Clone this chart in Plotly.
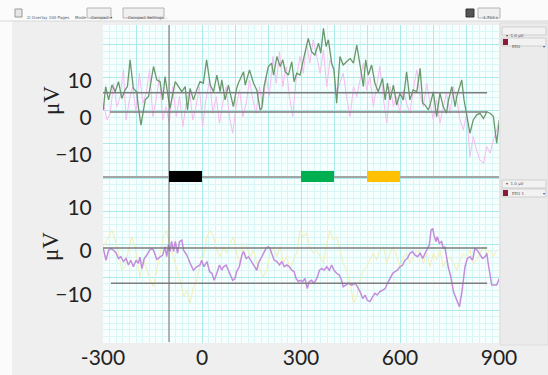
import plotly.graph_objects as go

# ---------------- data (ms, μV) ----------------
green_t = [-299,-292,-283,-273,-263,-253,-243,-233,-226,-218,-208,-198,-193,-185,-172,-162,-147,-137,-127,-119,-112,-102,-97,-81,-71,-61,-51,-44,-36,-26,-16,-6,4,14,25,35,45,55,60,70,80,95,105,110,126,131,144,156,166,176,181,188,201,211,217,227,237,245,252,262,272,279,287,297,307,322,332,342,353,360,368,376,383,393,400,408,418,428,438,449,459,469,479,489,496,504,514,524,534,539,547,555,562,570,580,590,600,610,620,630,640,651,661,669,676,686,691,701,711,721,731,741,746,757,767,772,787,794,802,812,822,832,842,853,863,873,883,893,901]
green_v = [2.2,8.5,4.9,8.9,7.1,9.8,5.3,7.6,8.5,15.7,8.0,7.1,3.1,-1.9,4.9,5.8,13.9,10.3,9.8,4.9,11.2,6.2,2.6,9.8,8.5,7.1,8.5,2.2,8.0,4.9,7.6,9.8,9.4,15.7,8.9,7.1,11.6,7.1,10.3,4.9,8.9,3.1,8.0,9.4,12.5,8.9,13.0,9.4,7.6,2.2,2.6,8.5,13.9,14.8,11.6,16.6,13.9,15.7,12.5,11.6,15.2,9.8,12.1,11.6,15.7,21.5,17.9,17.0,20.2,17.5,24.2,19.3,21.1,14.8,13.0,4.0,16.6,14.3,15.2,16.1,14.8,19.7,14.3,8.5,15.7,11.6,14.3,9.4,7.1,8.5,10.7,4.9,9.4,4.9,8.9,3.5,6.7,4.9,12.5,4.9,7.6,7.1,13.4,4.0,3.5,2.2,3.5,7.1,0.4,6.7,3.1,1.3,4.4,8.5,3.1,5.8,10.3,4.9,1.3,-4.1,-0.5,0.8,1.3,-0.1,1.7,1.3,0.4,-6.8,-0.5]

pink_t = [-299,-288,-278,-268,-258,-248,-238,-230,-220,-210,-200,-190,-179,-169,-159,-149,-139,-129,-119,-109,-99,-89,-78,-68,-58,-48,-38,-28,-18,-8,2,12,23,33,43,53,63,73,83,93,103,114,124,134,144,154,164,174,184,194,204,215,225,235,245,255,265,275,285,297,307,317,327,337,348,358,368,378,388,398,408,418,428,438,449,459,469,479,489,499,509,519,529,539,550,560,570,580,590,600,610,620,630,640,651,661,671,681,691,701,711,721,731,741,752,762,772,782,792,802,812,822,832,842,853,863,873,883,893,901]
pink_v = [4.0,-0.5,1.3,9.4,3.1,5.8,13.0,-0.5,4.9,8.5,1.3,12.1,4.0,6.7,13.0,0.4,4.9,11.2,-0.5,3.1,-1.4,8.5,0.4,5.8,-2.3,4.0,7.6,-0.5,3.1,8.5,-2.3,4.9,10.3,1.3,5.8,-1.4,4.0,8.5,0.4,-4.1,3.1,7.6,0.4,4.0,10.3,4.9,1.3,8.5,3.1,11.2,5.8,16.6,9.4,17.9,8.5,13.9,5.8,0.4,10.3,16.6,12.1,20.2,14.8,21.1,16.6,12.1,18.4,8.5,15.7,13.0,6.7,9.4,12.1,5.8,0.4,8.5,5.8,10.3,14.8,7.6,11.2,3.1,8.5,13.9,4.9,-1.4,8.5,3.1,5.8,1.3,7.6,4.0,1.3,7.6,13.0,5.8,3.1,9.4,4.0,-0.5,4.9,-1.4,3.1,6.7,1.3,8.5,4.9,-0.5,-3.2,1.3,-10.4,-5.0,-8.6,-11.3,-12.2,-7.7,-9.5,-5.9,-3.2,-0.5]

purple_t = [-299,-291,-283,-276,-268,-260,-253,-246,-238,-230,-223,-216,-208,-200,-193,-188,-182,-175,-167,-159,-152,-147,-137,-127,-119,-112,-107,-102,-97,-92,-86,-81,-74,-68,-61,-56,-46,-36,-26,-16,-6,-1,6,15,23,30,37,45,53,60,65,73,80,87,93,100,105,113,121,126,134,141,148,156,166,171,178,186,194,201,206,211,219,227,235,242,249,257,265,272,279,285,292,297,305,312,319,325,332,339,348,356,363,370,378,386,393,400,408,416,423,428,436,443,454,464,471,479,487,494,501,509,517,524,531,539,547,555,562,570,578,585,592,600,608,615,622,630,638,645,653,661,669,676,683,689,694,699,703,709,713,719,726,731,736,741,746,754,762,770,777,780,787,792,797,804,812,820,827,834,842,850,858,863,868,873,878,885,893,901]
purple_v = [0.6,-2.1,0.2,0.6,0.2,-0.5,-1.7,-1.3,-2.4,-1.7,-3.2,-2.1,-3.6,-2.1,-2.8,-1.4,-4.0,-1.7,-0.9,0.2,0.6,0.2,-1.9,-1.3,-0.9,1.0,-1.3,1.4,-0.1,2.2,-0.1,2.2,-0.5,2.2,2.5,0.2,-0.9,-2.8,-4.4,-3.6,-3.2,-2.1,-3.6,-2.4,-4.7,-5.1,-6.7,-5.1,-3.2,-4.4,-3.6,-3.2,-4.4,-5.9,-6.7,-6.3,-4.7,-3.6,-0.9,-0.1,-1.7,-1.3,-2.1,-3.2,-4.4,-2.8,-1.7,-0.5,0.6,1.0,0.6,-0.5,-2.1,-2.4,-3.2,-2.4,-3.6,-3.2,-3.6,-4.4,-4.7,-6.3,-7.0,-6.7,-7.0,-6.3,-8.6,-7.0,-6.7,-7.4,-6.3,-4.4,-4.0,-4.4,-3.6,-4.4,-3.2,-4.4,-5.1,-5.5,-6.7,-8.2,-7.8,-7.4,-7.8,-7.4,-8.2,-9.3,-10.9,-10.1,-11.3,-11.6,-10.5,-9.7,-10.1,-9.3,-9.0,-8.6,-7.4,-6.3,-5.1,-4.7,-4.4,-3.6,-3.2,-2.1,-1.7,-0.5,-0.1,-0.9,-1.3,-0.5,-1.7,-0.5,0.6,1.4,4.8,5.2,3.7,2.2,3.3,1.8,2.2,0.6,1.0,-1.3,-3.6,-5.9,-9.3,-10.9,-12.0,-12.8,-9.7,-6.7,-3.6,-1.7,-1.3,-2.1,0.6,0.2,-0.9,-1.7,-1.3,-0.5,-3.2,-5.9,-7.8,-7.8,-7.8,-6.3]

yellow_t = [-299,-283,-273,-263,-253,-243,-233,-223,-213,-203,-188,-177,-167,-157,-147,-137,-127,-117,-107,-97,-86,-76,-66,-56,-46,-36,-26,-16,-6,4,15,25,35,45,55,65,75,85,95,105,116,126,136,146,156,166,176,186,196,206,217,227,237,247,257,267,277,287,297,307,317,327,337,348,358,368,378,388,398,408,418,428,438,449,459,469,479,489,499,509,519,529,539,550,560,570,580,590,600,610,620,630,640,651,661,671,681,691,701,711,721,731,741,752,762,772,782,792,802,812,822,832,842,853,863,873,883,893]
yellow_v = [1.0,3.3,4.8,2.5,-0.5,-4.4,-3.6,0.2,3.3,1.0,-5.9,-2.1,-4.4,-6.7,-8.2,-4.4,-0.5,3.3,4.8,1.0,-1.3,-4.4,-6.7,-10.5,-9.0,-12.0,-8.2,-6.7,-3.6,-1.3,3.3,4.8,3.3,0.2,-1.3,1.0,-0.5,1.8,3.3,-0.5,-2.8,1.8,1.0,-1.3,0.2,-2.8,-4.4,-5.9,-4.4,-0.5,1.0,-1.3,1.0,-2.8,-1.3,-4.4,-2.1,-0.5,4.8,3.3,4.1,1.0,-0.5,0.2,-1.3,-2.8,1.8,4.8,2.5,3.3,0.2,-2.8,-4.4,-7.4,-12.0,-10.5,-6.7,-4.4,-3.6,-2.1,-0.5,-2.1,0.2,1.0,-2.8,-0.5,1.0,-1.3,-3.6,-1.3,-0.5,-2.8,-1.3,0.2,-0.5,-2.8,-0.5,-3.6,-0.5,-2.1,0.2,-3.6,-2.1,-1.3,-2.8,-4.4,-2.1,-0.5,-1.3,0.2,-2.8,-2.1,-0.5,1.0,-0.5,0.2,-1.3,0.2]

# time windows marked by coloured bars
win_start = [-100, 300, 500]
win_end = [0, 400, 600]
win_color = ["#000000", "#00b050", "#ffc000"]

# reference lines (μV)
upper_refs = [6.8, 1.6]
upper_ref_start = [-300, -279]
lower_refs = [0.7, -7.4]
lower_ref_start = [-300, -276]
ref_end = 864
cursor_t = -100

x_ticks = [-300, 0, 300, 600, 900]
y_ticks = [-10, 0, 10]

W, H = 548, 375
def px(x): return x / W
def py(y): return 1 - y / H

XDOM = [px(103), px(499)]
UP = [py(177), py(25)]
LO = [py(343), py(177)]

fig = go.Figure()
fig.add_trace(go.Scatter(x=pink_t, y=pink_v, mode="lines", line=dict(color="#f4bdf0", width=1), xaxis="x", yaxis="y", hoverinfo="skip"))
fig.add_trace(go.Scatter(x=green_t, y=green_v, mode="lines", line=dict(color="#6a986c", width=1.3), xaxis="x", yaxis="y"))
fig.add_trace(go.Scatter(x=yellow_t, y=yellow_v, mode="lines", line=dict(color="#f2eeb4", width=1), xaxis="x2", yaxis="y2", hoverinfo="skip"))
fig.add_trace(go.Scatter(x=purple_t, y=purple_v, mode="lines", line=dict(color="#c38cdc", width=1.5), xaxis="x2", yaxis="y2"))
# invisible traces to activate grid overlay axes
fig.add_trace(go.Scatter(x=[None], y=[None], xaxis="x", yaxis="y3", showlegend=False))
fig.add_trace(go.Scatter(x=[None], y=[None], xaxis="x2", yaxis="y4", showlegend=False))

MAJ = "#ade9e9"
MIN = "#d8f6f6"
xcommon = dict(domain=XDOM, range=[-300, 900], tick0=-300, dtick=100, showgrid=True, gridcolor=MAJ, gridwidth=1,
               minor=dict(dtick=20, tick0=-300, showgrid=True, gridcolor=MIN, gridwidth=1),
               zeroline=False, showline=False, ticks="", fixedrange=True, automargin=False)
tickfont = dict(family="Lato, 'Open Sans', sans-serif", size=21, color="#222222")

fig.update_layout(
    width=W, height=H, autosize=False, margin=dict(l=0, r=0, t=0, b=0, pad=0),
    paper_bgcolor="#efefef", plot_bgcolor="#f7fefe", showlegend=False,
    xaxis=dict(**xcommon, anchor="y", showticklabels=False),
    xaxis2=dict(**xcommon, anchor="y2", showticklabels=True, tickmode="array", tickvals=x_ticks,
                ticktext=[str(v) for v in x_ticks], tickfont=tickfont),
    yaxis=dict(domain=UP, range=[-15.9, 25.1], anchor="x", tickmode="array", tickvals=y_ticks, showgrid=False,
               zeroline=False, tickfont=tickfont, ticks="outside", ticklen=6, tickcolor="rgba(0,0,0,0)", automargin=False, fixedrange=True),
    yaxis2=dict(domain=LO, range=[-21.1, 17.0], anchor="x2", tickmode="array", tickvals=y_ticks, showgrid=False,
                zeroline=False, tickfont=tickfont, ticks="outside", ticklen=6, tickcolor="rgba(0,0,0,0)", automargin=False, fixedrange=True),
    yaxis3=dict(overlaying="y", anchor="x", range=[0, 23], dtick=5, showgrid=True, gridcolor=MAJ, automargin=False,
                minor=dict(dtick=1, showgrid=True, gridcolor=MIN), showticklabels=False, zeroline=False, ticks="", fixedrange=True),
    yaxis4=dict(overlaying="y2", anchor="x2", range=[0, 25.2], dtick=5, showgrid=True, gridcolor=MAJ, automargin=False,
                minor=dict(dtick=1, showgrid=True, gridcolor=MIN), showticklabels=False, zeroline=False, ticks="", fixedrange=True),
)

shapes = []
# toolbar and left strip backgrounds
shapes.append(dict(type="rect", xref="paper", yref="paper", x0=0, x1=1, y0=py(21), y1=1, fillcolor="#fbfbfb", line=dict(width=0), layer="below"))
shapes.append(dict(type="line", xref="paper", yref="paper", x0=0, x1=1, y0=py(21), y1=py(21), line=dict(color="#d8d8d8", width=1)))
shapes.append(dict(type="rect", xref="paper", yref="paper", x0=0, x1=px(12), y0=0, y1=py(21), fillcolor="#fbfbfb", line=dict(width=0), layer="below"))
# right side panel
shapes.append(dict(type="rect", xref="paper", yref="paper", x0=px(500), x1=1, y0=py(345), y1=py(23), fillcolor="#ebebeb", line=dict(color="#dddddd", width=1), layer="below"))
# reference lines
for v, s in zip(upper_refs, upper_ref_start):
    shapes.append(dict(type="line", xref="x", yref="y", x0=s, x1=ref_end, y0=v, y1=v, line=dict(color="#7d7d7d", width=1.5)))
for v, s in zip(lower_refs, lower_ref_start):
    shapes.append(dict(type="line", xref="x2", yref="y2", x0=s, x1=ref_end, y0=v, y1=v, line=dict(color="#7d7d7d", width=1.5)))
# cursor line
shapes.append(dict(type="line", xref="x", yref="paper", x0=cursor_t, x1=cursor_t, y0=py(342), y1=py(25), line=dict(color="#6e6e6e", width=1)))
# panel divider
shapes.append(dict(type="line", xref="paper", yref="paper", x0=XDOM[0], x1=XDOM[1], y0=py(177), y1=py(177), line=dict(color="#a5a5a5", width=2)))
# window bars
for a, b, c in zip(win_start, win_end, win_color):
    shapes.append(dict(type="rect", xref="x", yref="paper", x0=a, x1=b, y0=py(182), y1=py(171), fillcolor=c, line=dict(width=0)))
# toolbar widgets
for x0, x1 in [(87, 111), (123, 164), (478, 500)]:
    shapes.append(dict(type="rect", xref="paper", yref="paper", x0=px(x0), x1=px(x1), y0=py(18), y1=py(8), fillcolor="#f0f0f0", line=dict(color="#b5b5b5", width=1)))
shapes.append(dict(type="rect", xref="paper", yref="paper", x0=px(15), x1=px(22), y0=py(17), y1=py(9), fillcolor="#e6e6e6", line=dict(color="#999999", width=1)))
shapes.append(dict(type="rect", xref="paper", yref="paper", x0=px(466), x1=px(474), y0=py(17), y1=py(9), fillcolor="#555555", line=dict(color="#333333", width=1)))
# side panel widgets
for yy in (31, 42, 184, 193):
    shapes.append(dict(type="rect", xref="paper", yref="paper", x0=px(502), x1=px(546), y0=py(yy + 4), y1=py(yy - 4), fillcolor="#f2f2f2", line=dict(color="#cfcfcf", width=1)))
for yy in (42, 193):
    shapes.append(dict(type="rect", xref="paper", yref="paper", x0=px(503), x1=px(508), y0=py(yy + 3), y1=py(yy - 3), fillcolor="#8b1a3a", line=dict(width=0)))
fig.update_layout(shapes=shapes)

ann = []
labfont = dict(family="'Liberation Serif', 'DejaVu Serif', serif", size=23, color="#222222")
ann.append(dict(text="μV", x=px(37), y=py(84), xref="paper", yref="paper", showarrow=False, textangle=-90, font=labfont))
ann.append(dict(text="μV", x=px(36), y=py(263), xref="paper", yref="paper", showarrow=False, textangle=-90, font=labfont))
small = dict(family="'DejaVu Sans', sans-serif", size=4, color="#555555")
for t, x in [("☑ Overlay 100 Pages", 25), ("Mode", 73), ("Compact ▾", 89), ("Compact Settings...", 126), ("1.703 s", 481)]:
    ann.append(dict(text=t, x=px(x), y=py(13), xref="paper", yref="paper", xanchor="left", showarrow=False, font=small))
for t, x, y in [("▾  1.0 µV", 504, 31), ("EEG", 510, 42), ("▾", 541, 42), ("▾  1.0 µV", 504, 184), ("EEG 1", 510, 193), ("▾", 541, 193)]:
    ann.append(dict(text=t, x=px(x), y=py(y), xref="paper", yref="paper", xanchor="left", showarrow=False, font=small))
fig.update_layout(annotations=ann)

fig.write_html("out.html", config={"displayModeBar": False, "staticPlot": False},
               post_script="document.body.style.margin='0';document.body.style.overflow='hidden';")
